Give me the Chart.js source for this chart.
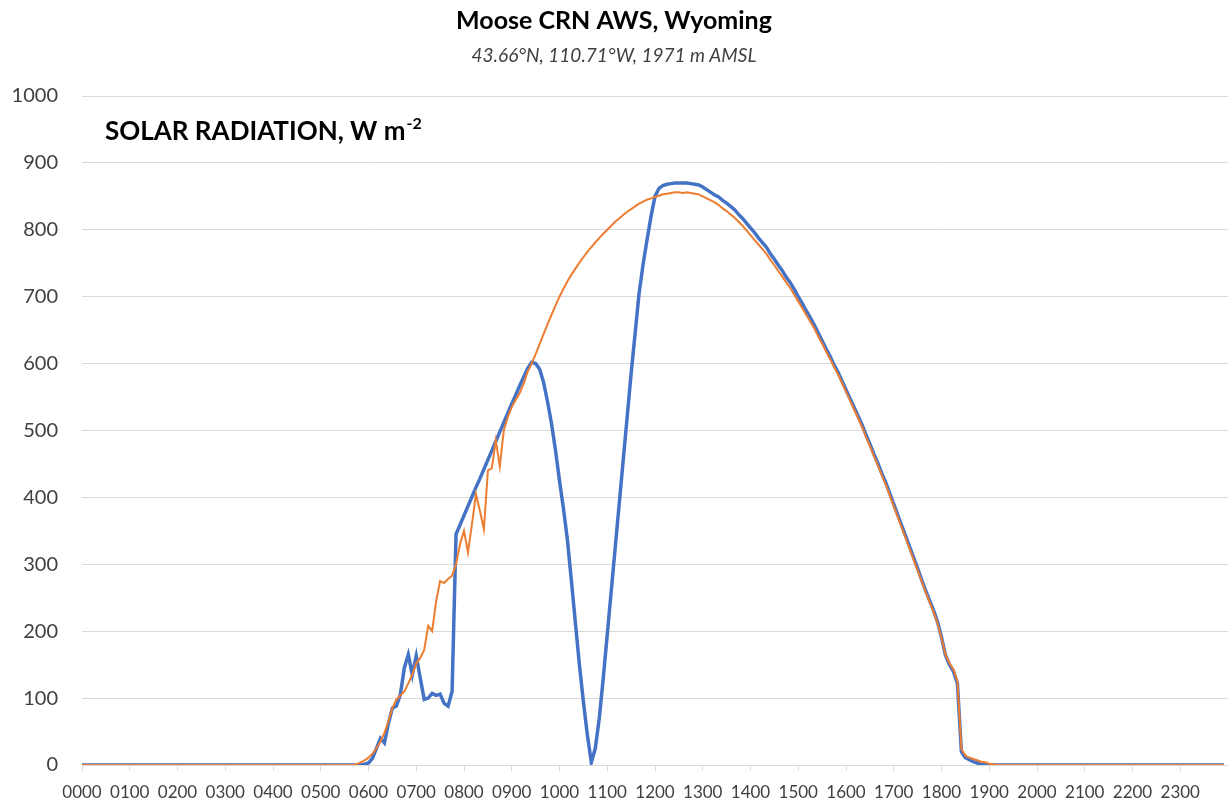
<!DOCTYPE html>
<html>
<head>
<meta charset="utf-8">
<script src="https://cdn.jsdelivr.net/npm/chart.js@4.4.0/dist/chart.umd.min.js"></script>
<style>
html,body{margin:0;padding:0;background:#ffffff;overflow:hidden;}
canvas{display:block;}
</style>
</head>
<body>
<canvas id="c" width="1228" height="806"></canvas>
<script>
// ---- DATA ----
const chartTitle = "Moose CRN AWS, Wyoming";
const chartSubtitle = "43.66°N, 110.71°W, 1971 m AMSL";
const panelLabel = "SOLAR RADIATION, W m";
const panelLabelSup = "-2";

const hourLabels = ["0000","0100","0200","0300","0400","0500","0600","0700","0800","0900","1000","1100",
                    "1200","1300","1400","1500","1600","1700","1800","1900","2000","2100","2200","2300"];
const minuteSteps = ["00","05","10","15","20","25","30","35","40","45","50","55"];

// 5-minute values, one row per hour (0000 ... 2300)
const observedValues = [
  0,0,0,0,0,0,0,0,0,0,0,0,            // 00
  0,0,0,0,0,0,0,0,0,0,0,0,            // 01
  0,0,0,0,0,0,0,0,0,0,0,0,            // 02
  0,0,0,0,0,0,0,0,0,0,0,0,            // 03
  0,0,0,0,0,0,0,0,0,0,0,0,            // 04
  0,0,0,0,0,0,0,0,0,0,0,1,            // 05
  3,10,25,40,33,62,85,88,105,145,165,135,          // 06
  163,130,98,100,107,104,106,92,88,110,345,359,     // 07
  373,387,401,415,428,442,456,470,484,498,512,526,  // 08
  540,553,567,580,593,602,600,592,572,543,510,470,  // 09
  425,383,336,275,212,150,95,45,4,25,70,130,        // 10
  195,260,325,390,455,520,585,645,705,748,785,820,  // 11
  850,862,866,868,869,870,870,870,870,869,868,867,  // 12
  864,860,856,852,849,844,840,835,830,823,817,810,  // 13
  803,796,788,781,774,764,756,747,739,729,721,711,  // 14
  700,690,679,669,658,646,634,622,611,598,587,574,  // 15
  561,548,535,522,509,494,480,465,451,436,422,406,  // 16
  390,374,358,342,326,310,294,277,261,246,231,214,  // 17
  191,164,150,140,122,20,11,8,5,3,1,0,              // 18
  0,0,0,0,0,0,0,0,0,0,0,0,            // 19
  0,0,0,0,0,0,0,0,0,0,0,0,            // 20
  0,0,0,0,0,0,0,0,0,0,0,0,            // 21
  0,0,0,0,0,0,0,0,0,0,0,0,            // 22
  0,0,0,0,0,0,0,0,0,0,0,0             // 23
];

const clearSkyValues = [
  0,0,0,0,0,0,0,0,0,0,0,0,            // 00
  0,0,0,0,0,0,0,0,0,0,0,0,            // 01
  0,0,0,0,0,0,0,0,0,0,0,0,            // 02
  0,0,0,0,0,0,0,0,0,0,0,0,            // 03
  0,0,0,0,0,0,0,0,0,0,0,0,            // 04
  0,0,0,0,0,0,0,0,0,1,4,7,            // 05
  11,17,25,35,48,65,85,98,104,110,122,135,          // 06
  152,160,172,208,200,245,275,272,278,283,300,330,  // 07
  350,318,360,405,380,352,440,444,485,446,500,520,  // 08
  535,546,556,570,588,600,614,629,644,659,673,687,  // 09
  700,712,723,733,742,751,759,767,774,781,788,794,  // 10
  800,806,812,817,822,827,831,835,839,842,845,847,  // 11
  849,851,853,854,855,856,856,855,856,855,854,853,  // 12
  850,847,844,841,837,832,828,823,818,812,806,799,  // 13
  792,785,778,771,764,755,747,738,730,721,713,703,  // 14
  693,683,673,663,653,641,630,618,607,595,584,571,  // 15
  558,545,532,519,506,491,477,462,448,433,419,403,  // 16
  387,371,355,339,323,307,291,275,259,244,229,212,  // 17
  190,165,152,143,125,24,14,11,9,7,5,4,             // 18
  2,1,0,0,0,0,0,0,0,0,0,0,            // 19
  0,0,0,0,0,0,0,0,0,0,0,0,            // 20
  0,0,0,0,0,0,0,0,0,0,0,0,            // 21
  0,0,0,0,0,0,0,0,0,0,0,0,            // 22
  0,0,0,0,0,0,0,0,0,0,0,0             // 23
];

const yMin = 0, yMax = 1000, yStep = 100;

// category labels: every 5 minutes, plus the closing 2400 position
const times = [];
hourLabels.forEach(h => minuteSteps.forEach(m => times.push(h.slice(0,2) + m)));
times.push("2400");

// ---- CHART ----
const FONT = "Lato, 'Open Sans', sans-serif";

const panelLabelPlugin = {
  id: 'panelLabel',
  afterDraw(chart) {
    const {ctx, chartArea} = chart;
    ctx.save();
    ctx.fillStyle = '#000000';
    ctx.textAlign = 'left';
    ctx.textBaseline = 'alphabetic';
    ctx.font = "bold 26px " + FONT;
    const x = chartArea.left + 23;
    const y = chartArea.top + 44;
    ctx.fillText(panelLabel, x, y);
    const w = ctx.measureText(panelLabel).width;
    ctx.font = "bold 16px " + FONT;
    ctx.fillText(panelLabelSup, x + w + 1, y - 11);
    ctx.restore();
  }
};

new Chart(document.getElementById('c'), {
  type: 'line',
  data: {
    labels: times,
    datasets: [
      {
        label: 'Clear sky',
        data: clearSkyValues,
        borderColor: '#ED7D31',
        borderWidth: 2,
        pointRadius: 0,
        tension: 0,
        order: 0
      },
      {
        label: 'Observed',
        data: observedValues,
        borderColor: '#4472C4',
        borderWidth: 3.5,
        pointRadius: 0,
        tension: 0,
        order: 1
      }
    ]
  },
  options: {
    responsive: false,
    animation: false,
    devicePixelRatio: 1,
    layout: { padding: { left: 0, right: 0, top: 0, bottom: 0 } },
    plugins: {
      legend: { display: false },
      tooltip: { enabled: false },
      title: {
        display: true,
        text: chartTitle,
        color: '#000000',
        font: { family: FONT, size: 25, weight: 'bold', lineHeight: 1.2 },
        padding: { top: 6, bottom: 5 }
      },
      subtitle: {
        display: true,
        text: chartSubtitle,
        color: '#404040',
        font: { family: FONT, size: 19, style: 'italic', lineHeight: 1.2 },
        padding: { top: 3, bottom: 29.2 }
      }
    },
    scales: {
      x: {
        type: 'category',
        offset: false,
        grid: {
          drawOnChartArea: false,
          drawTicks: true,
          tickLength: 6,
          color: '#d9d9d9',
          lineWidth: 1
        },
        border: { display: true, color: '#d9d9d9', width: 1 },
        ticks: {
          autoSkip: false,
          maxRotation: 0,
          minRotation: 0,
          padding: 11,
          color: '#404040',
          font: { family: FONT, size: 17 },
          callback: function(value, index) {
            const lab = times[index];
            return hourLabels.includes(lab) ? lab : null;
          }
        },
        afterFit: function(scale) { scale.height = 41; }
      },
      y: {
        min: yMin,
        max: yMax,
        grid: { color: '#d9d9d9', lineWidth: 1, drawTicks: false },
        border: { display: false },
        ticks: {
          stepSize: yStep,
          padding: 24,
          color: '#404040',
          font: { family: FONT, size: 20 },
          callback: function(value) { return String(value); }
        },
        afterFit: function(scale) { scale.width = 82; }
      }
    }
  },
  plugins: [panelLabelPlugin]
});
</script>
</body>
</html>
